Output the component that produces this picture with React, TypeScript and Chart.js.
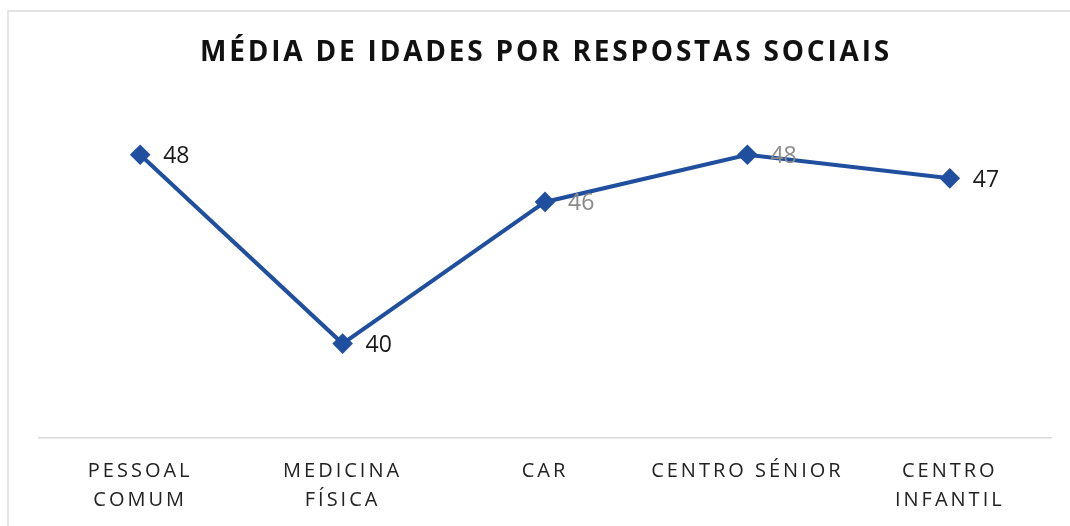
import React, { useEffect, useRef } from "react";
import { Chart, registerables } from "chart.js";

Chart.register(...registerables);

const chartTitle = "MÉDIA DE IDADES POR RESPOSTAS SOCIAIS";
const categories: string[][] = [
  ["PESSOAL", "COMUM"],
  ["MEDICINA", "FÍSICA"],
  ["CAR"],
  ["CENTRO SÉNIOR"],
  ["CENTRO", "INFANTIL"],
];
const averageAges: number[] = [48, 40, 46, 48, 47];
const yMin = 36;
const yMax = 50;

const LINE_COLOR = "#1f4f9e";
const labelColors = ["#1a1a1a", "#1a1a1a", "#8a8a8a", "#8a8a8a", "#1a1a1a"];

const spacingPlugin = {
  id: "spacing",
  beforeDraw(chart: any) {
    const ctx = chart.ctx;
    ctx.save();
    ctx.strokeStyle = "#dcdcdc";
    ctx.lineWidth = 1.5;
    ctx.beginPath();
    ctx.moveTo(8, 526);
    ctx.lineTo(8, 11);
    ctx.lineTo(1070, 11);
    ctx.stroke();
    ctx.restore();
    ctx.letterSpacing = "3px";
  },
  beforeDatasetsDraw(chart: any) {
    chart.ctx.letterSpacing = "0px";
  },
  afterDraw(chart: any) {
    const ctx = chart.ctx;
    ctx.save();
    ctx.letterSpacing = "2.8px";
    ctx.font = "bold 28px 'Open Sans'";
    ctx.fillStyle = "#111";
    ctx.textAlign = "center";
    ctx.textBaseline = "middle";
    ctx.fillText(chartTitle, 546, 53);
    ctx.restore();
  },
};

const dataLabelPlugin = {
  id: "dataLabels",
  afterDatasetsDraw(chart: any) {
    const ctx = chart.ctx;
    const meta = chart.getDatasetMeta(0);
    ctx.save();
    ctx.letterSpacing = "0px";
    ctx.font = "23px 'Open Sans'";
    ctx.textAlign = "left";
    ctx.textBaseline = "middle";
    meta.data.forEach((pt: any, i: number) => {
      ctx.fillStyle = labelColors[i];
      ctx.fillText(String(averageAges[i]), pt.x + 23, pt.y + 2);
    });
    ctx.restore();
  },
};

export default function App() {
  const ref = useRef<HTMLCanvasElement | null>(null);
  useEffect(() => {
    document.body.style.margin = "0";
    const canvas = ref.current!;
    const chart = new Chart(canvas, {
      type: "line",
      data: {
        labels: categories,
        datasets: [
          {
            data: averageAges,
            borderColor: LINE_COLOR,
            backgroundColor: LINE_COLOR,
            borderWidth: 4,
            pointStyle: "rectRot",
            pointRadius: 7.5,
            pointBackgroundColor: LINE_COLOR,
            pointBorderColor: LINE_COLOR,
            tension: 0,
          },
        ],
      },
      options: {
        responsive: false,
        animation: false,
        layout: { padding: { top: 107.5, left: 39, right: 19, bottom: -8 } },
        plugins: {
          legend: { display: false },
          title: { display: false },
          tooltip: { enabled: false },
        },
        scales: {
          x: {
            offset: true,
            grid: { display: false, drawTicks: false },
            border: { display: true, color: "#d9d9d9", width: 1.5 },
            ticks: {
              color: "#222",
              padding: 19,
              maxRotation: 0,
              autoSkip: false,
              font: { family: "'Open Sans'", size: 20, lineHeight: 1.45 },
            },
          },
          y: {
            display: false,
            min: yMin,
            max: yMax,
          },
        },
      },
      plugins: [spacingPlugin, dataLabelPlugin],
    });
    return () => chart.destroy();
  }, []);
  return (
    <div style={{ position: "absolute", left: 0, top: 0, width: 1070, height: 526 }}>
      <canvas ref={ref} width={1070} height={526} />
    </div>
  );
}
